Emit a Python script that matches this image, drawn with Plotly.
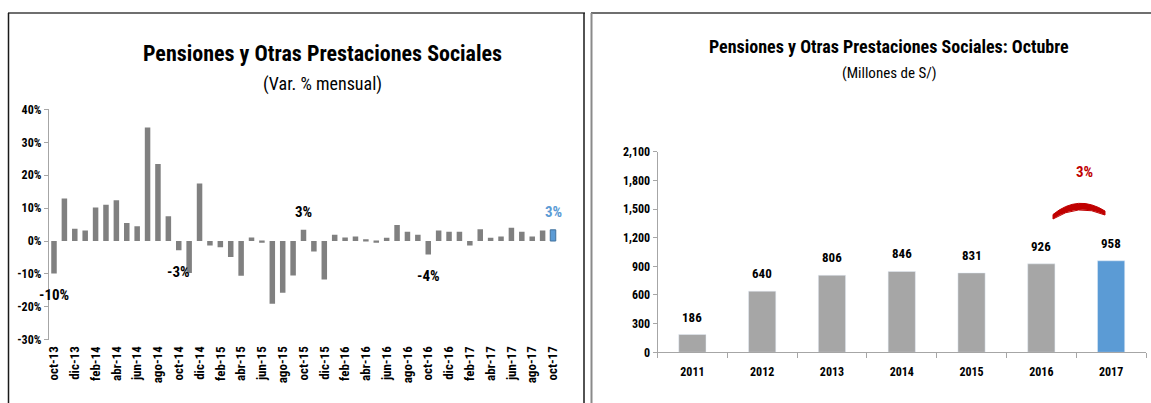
import plotly.graph_objects as go

# ---------------- data ----------------
months = ["oct-13", "nov-13", "dic-13", "ene-14", "feb-14", "mar-14", "abr-14", "may-14",
          "jun-14", "jul-14", "ago-14", "sep-14", "oct-14", "nov-14", "dic-14", "ene-15",
          "feb-15", "mar-15", "abr-15", "may-15", "jun-15", "jul-15", "ago-15", "sep-15",
          "oct-15", "nov-15", "dic-15", "ene-16", "feb-16", "mar-16", "abr-16", "may-16",
          "jun-16", "jul-16", "ago-16", "sep-16", "oct-16", "nov-16", "dic-16", "ene-17",
          "feb-17", "mar-17", "abr-17", "may-17", "jun-17", "jul-17", "ago-17", "sep-17",
          "oct-17"]
var_mensual = [-9.9, 12.9, 3.7, 3.2, 10.2, 11.0, 12.4, 5.5, 4.5, 34.5,
               23.4, 7.5, -2.8, -9.7, 17.5, -1.4, -1.9, -4.9, -10.6, 1.1,
               -0.5, -19.1, -15.7, -10.5, 3.4, -3.2, -11.7, 1.9, 1.1, 1.4,
               0.5, -0.5, 1.0, 4.9, 2.8, 1.9, -4.1, 3.2, 2.8, 2.8,
               -1.4, 3.6, 1.0, 1.4, 4.0, 2.8, 1.4, 3.2, 3.4]
highlight_months = ["oct-13", "oct-14", "oct-15", "oct-16", "oct-17"]

years = ["2011", "2012", "2013", "2014", "2015", "2016", "2017"]
octubre_millones = [186, 640, 806, 846, 831, 926, 958]

left_title = "Pensiones y Otras Prestaciones Sociales"
left_subtitle = "(Var. % mensual)"
right_title = "Pensiones y Otras Prestaciones Sociales: Octubre"
right_subtitle = "(Millones de S/)"

# ---------------- style ----------------
W, H = 1151, 403
FONT = "Liberation Sans Narrow, Arial Narrow, Roboto Condensed, Lato, sans-serif"
GRAY_L = "#808080"
GRAY_R = "#A6A6A6"
BLUE = "#5B9BD5"
BLUE_EDGE = "#41719C"
RED = "#C00000"
AXIS = "#A6A6A6"


def px_x(px):
    return px / W


def px_y(py):
    return 1 - py / H


n = len(months)
idx = list(range(n))
last = n - 1
ny = len(years)
yidx = list(range(ny))

L_YMIN, L_YMAX = -30, 40
L_DOM_X = [px_x(48.8), px_x(558.2)]
L_DOM_Y = [px_y(339.7), px_y(109.4)]
zero_pos = L_DOM_Y[0] + (0 - L_YMIN) / (L_YMAX - L_YMIN) * (L_DOM_Y[1] - L_DOM_Y[0])

R_DOM_X = [px_x(657.5), px_x(1146)]
R_DOM_Y = [px_y(352.3), px_y(151.7)]

fig = go.Figure()

# left bars
fig.add_trace(go.Bar(
    x=idx, y=var_mensual,
    marker=dict(color=[BLUE if i == last else GRAY_L for i in idx],
                line=dict(color=[BLUE_EDGE if i == last else GRAY_L for i in idx],
                          width=[1 if i == last else 0 for i in idx])),
    width=0.53,
    xaxis="x", yaxis="y", showlegend=False, hoverinfo="skip",
))

# right bars
fig.add_trace(go.Bar(
    x=yidx, y=octubre_millones,
    marker=dict(color=[BLUE if i == ny - 1 else GRAY_R for i in yidx]),
    width=0.39,
    xaxis="x2", yaxis="y2", showlegend=False, hoverinfo="skip",
))

annotations = []

# titles
annotations += [
    dict(text=left_title, x=px_x(322), y=px_y(53), xref="paper", yref="paper", showarrow=False,
         xanchor="center", yanchor="middle",
         font=dict(family=FONT, size=22, color="black", weight=700)),
    dict(text=left_subtitle, x=px_x(322), y=px_y(84), xref="paper", yref="paper", showarrow=False,
         xanchor="center", yanchor="middle",
         font=dict(family=FONT, size=18, color="black")),
    dict(text=right_title, x=px_x(889), y=px_y(47), xref="paper", yref="paper", showarrow=False,
         xanchor="center", yanchor="middle",
         font=dict(family=FONT, size=18, color="black", weight=700)),
    dict(text=right_subtitle, x=px_x(889), y=px_y(73), xref="paper", yref="paper", showarrow=False,
         xanchor="center", yanchor="middle",
         font=dict(family=FONT, size=15, color="black")),
]

# October labels on left chart
for m in highlight_months:
    i = months.index(m)
    v = var_mensual[i]
    yv = v + 5.3 if v >= 0 else v - 6.5
    annotations.append(dict(
        text=f"{round(v)}%", x=i, y=yv, xref="x", yref="y", showarrow=False,
        xanchor="center", yanchor="middle",
        font=dict(family=FONT, size=15, color=BLUE if i == last else "black", weight=700),
    ))

# value labels on right chart
for i, v in zip(yidx, octubre_millones):
    annotations.append(dict(
        text=f"{v:,}", x=i, y=v, xref="x2", yref="y2", xanchor="center", yanchor="bottom", yshift=8,
        showarrow=False, font=dict(family=FONT, size=13, color="black", weight=700),
    ))

# growth label
growth = (octubre_millones[-1] / octubre_millones[-2] - 1) * 100
annotations.append(dict(
    text=f"{round(growth)}%", x=5.62, y=1890, xref="x2", yref="y2", showarrow=False,
    xanchor="center", yanchor="middle",
    font=dict(family=FONT, size=15, color=RED, weight=700),
))

shapes = []
border_dark = "#1a1a1a"
border_gray = "#6f6f6f"
shapes += [
    dict(type="line", xref="paper", yref="paper", x0=px_x(8), x1=px_x(585), y0=px_y(13), y1=px_y(13),
         line=dict(color=border_gray, width=2)),
    dict(type="line", xref="paper", yref="paper", x0=px_x(8.5), x1=px_x(8.5), y0=px_y(13), y1=px_y(403),
         line=dict(color=border_dark, width=1.5)),
    dict(type="line", xref="paper", yref="paper", x0=px_x(584), x1=px_x(584), y0=px_y(13), y1=px_y(403),
         line=dict(color=border_dark, width=1.5)),
    dict(type="line", xref="paper", yref="paper", x0=px_x(591), x1=px_x(1151), y0=px_y(13), y1=px_y(13),
         line=dict(color=border_gray, width=2)),
    dict(type="line", xref="paper", yref="paper", x0=px_x(591.5), x1=px_x(591.5), y0=px_y(13), y1=px_y(403),
         line=dict(color="#8a8a8a", width=2)),
]

# red arc
p = lambda x, y: f"{px_x(x):.5f},{px_y(y):.5f}"
arc = (f"M {p(1053, 214.5)} Q {p(1078, 194)} {p(1105, 211)} "
       f"L {p(1105, 215)} Q {p(1078, 203)} {p(1053, 219)} Z")
shapes.append(dict(type="path", path=arc, xref="paper", yref="paper",
                   fillcolor=RED, line=dict(color=RED, width=1)))

tickfont_b = dict(family=FONT, size=12, color="black", weight=700)

fig.update_layout(
    width=W, height=H,
    margin=dict(l=0, r=0, t=0, b=0, pad=0),
    paper_bgcolor="white", plot_bgcolor="rgba(0,0,0,0)",
    font=dict(family=FONT),
    annotations=annotations,
    shapes=shapes,
    xaxis=dict(
        domain=L_DOM_X, anchor="y", range=[-0.5, n - 0.5], automargin=False,
        tickmode="array", tickvals=idx[::2], ticktext=months[::2],
        tickangle=-90, tickfont=dict(family=FONT, size=13, color="black", weight=700),
        showline=False, showgrid=False, zeroline=False, ticks="", ticklabelstandoff=3,
    ),
    xaxis3=dict(
        overlaying="x", anchor="free", position=zero_pos, range=[-0.5, n - 0.5], automargin=False,
        tickmode="array", tickvals=idx[::2], showticklabels=False, ticks="",
        showline=True, linecolor=AXIS, linewidth=1, showgrid=False, zeroline=False,
        minor=dict(tickmode="array", tickvals=[i + 0.5 for i in idx[1:-1:2]],
                   ticks="outside", ticklen=4, tickcolor=AXIS, showgrid=False),
    ),
    yaxis=dict(
        domain=L_DOM_Y, anchor="x", range=[L_YMIN, L_YMAX], automargin=False,
        tickmode="array", tickvals=list(range(L_YMIN, L_YMAX + 1, 10)),
        ticktext=[f"{v}%" for v in range(L_YMIN, L_YMAX + 1, 10)],
        tickfont=tickfont_b, showgrid=False, zeroline=False,
        showline=True, linecolor=AXIS, linewidth=1, ticks="outside", ticklen=4, tickcolor=AXIS,
    ),
    xaxis2=dict(
        domain=R_DOM_X, anchor="y2", range=[-0.5, ny - 0.5], automargin=False,
        tickmode="array", tickvals=yidx, ticktext=years,
        tickfont=tickfont_b, showline=True, linecolor=AXIS, linewidth=1,
        ticks="", showgrid=False, zeroline=False, ticklabelstandoff=8,
        minor=dict(tickmode="array", tickvals=[i - 0.5 for i in range(ny + 1)],
                   ticks="outside", ticklen=5, tickcolor=AXIS, showgrid=False),
    ),
    yaxis2=dict(
        domain=R_DOM_Y, anchor="x2", range=[0, 2100], tickmode="array", automargin=False,
        tickvals=list(range(0, 2101, 300)), tickformat=",",
        tickfont=tickfont_b, showline=True, linecolor=AXIS, linewidth=1,
        ticks="outside", ticklen=4, tickcolor=AXIS, showgrid=False, zeroline=False,
    ),
)

fig.write_html("out.html", config={"displayModeBar": False},
               post_script="document.body.style.margin='0';")
